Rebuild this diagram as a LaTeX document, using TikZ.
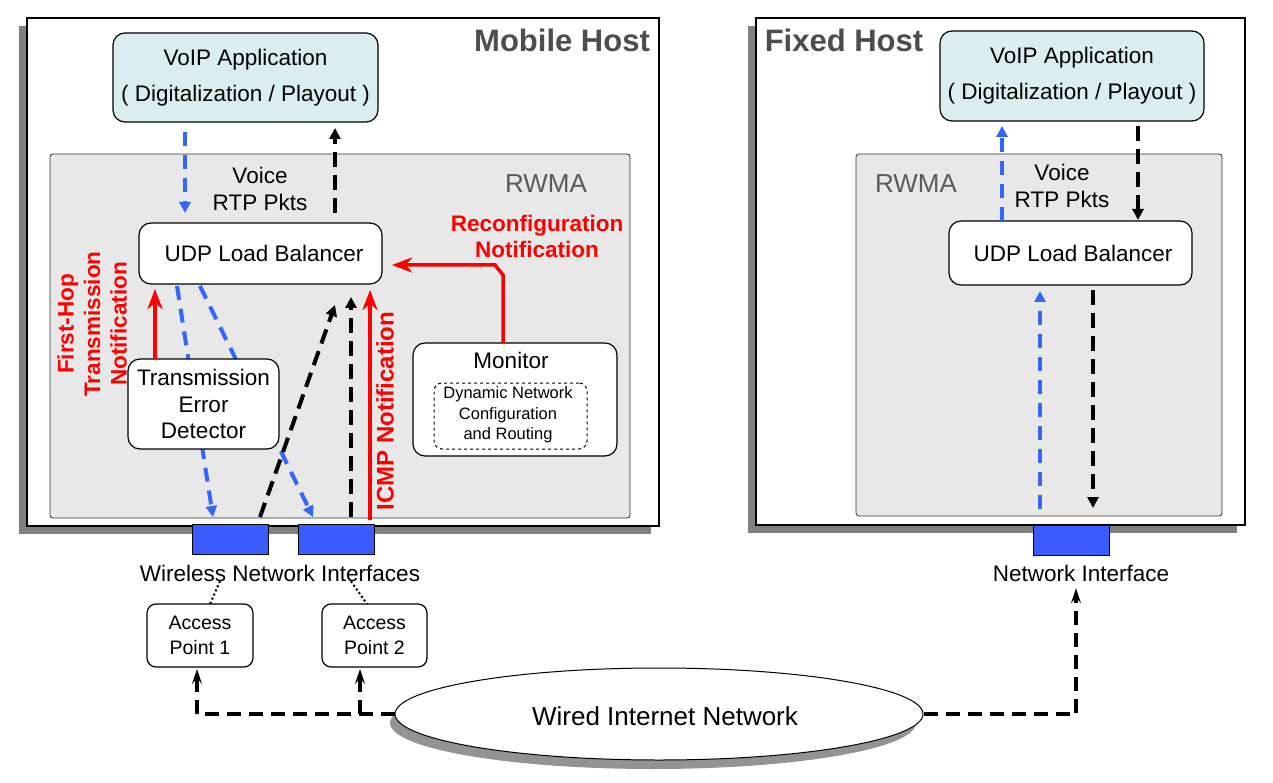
\documentclass[tikz,border=0pt]{standalone}
\usepackage{fontspec}
\setmainfont{Liberation Sans}
\usetikzlibrary{arrows.meta,shapes.geometric,calc}
\definecolor{appcyan}{HTML}{DAEEF1}
\definecolor{rwmagray}{HTML}{E8E8E8}
\definecolor{shadowgray}{HTML}{808080}
\definecolor{dblue}{HTML}{3366FF}
\definecolor{ifblue}{HTML}{3A5CFF}
\definecolor{hostlbl}{HTML}{4D4D4D}
\definecolor{rwmalbl}{HTML}{5A5A5A}
\definecolor{nred}{HTML}{FF0000}
\begin{document}
\begin{tikzpicture}[x=1pt,y=-1pt,
  txt/.style={inner sep=0pt,outer sep=0pt,align=center,font=\fontsize{22.5}{27}\selectfont},
  hostbox/.style={draw=black,line width=1.2pt,fill=white,inner sep=0pt,outer sep=0pt},
  rwmabox/.style={draw=black!80,line width=0.8pt,fill=rwmagray,rounded corners=3pt,inner sep=0pt,outer sep=0pt},
  rbox/.style={draw=black,line width=1.2pt,fill=white,rounded corners=12pt,inner sep=0pt,outer sep=0pt,align=center,font=\fontsize{22.5}{26.5}\selectfont},
  appbox/.style={rbox,fill=appcyan,font=\fontsize{22.5}{36}\selectfont},
  ifbox/.style={draw=black,line width=1pt,fill=ifblue,inner sep=0pt,outer sep=0pt,minimum width=76pt,minimum height=30pt},
  hostlabel/.style={inner sep=0pt,font=\bfseries\fontsize{31}{34}\selectfont,text=hostlbl},
  rwmalabel/.style={inner sep=0pt,font=\fontsize{26}{30}\selectfont,text=rwmalbl},
  redlbl/.style={inner sep=0pt,align=center,text=nred,font=\bfseries\fontsize{22.5}{26.5}\selectfont},
  blackarr/.style={draw=black,line width=4pt,dash pattern=on 15pt off 8pt,-{Triangle[length=11pt,width=11pt]}},
  bluearr/.style={draw=dblue,line width=4pt,dash pattern=on 14pt off 9pt,-{Triangle[length=11pt,width=11pt]}},
  redarr/.style={draw=nred,line width=3.5pt,-{Stealth[length=20pt,width=15pt,inset=6pt]}},
  wirearr/.style={draw=black,line width=4pt,dash pattern=on 14pt off 8pt,-{Stealth[length=15pt,width=10pt,inset=6pt]}},
  dotsty/.style={draw=black,line width=2pt,dash pattern=on 2pt off 2.5pt}]
\useasboundingbox (0,0) rectangle (1273,783);

% ---------------- Mobile host ----------------
\fill[shadowgray] (19,26) rectangle (651,534);
\node[hostbox,minimum width=632pt,minimum height=508pt] (mh) at (343,272) {};
\node[hostlabel] (mhl) at (562,40) {Mobile Host};
\node[rwmabox,minimum width=580pt,minimum height=364pt] (mrwma) at (340,336) {};
\node[rwmalabel] (mrl) at (546,184) {RWMA};
\node[appbox,minimum width=265pt,minimum height=89pt] (mapp) at (245.5,77.5) {VoIP Application\\( Digitalization / Playout )};
\node[txt] (mvoice) at (260,188.5) {Voice\\RTP Pkts};
\node[rbox,minimum width=243pt,minimum height=61pt] (mudp) at (260.5,253.5) {\hspace*{7pt}UDP Load Balancer};
\node[ifbox] (if1) at (230,539) {};
\node[ifbox] (if2) at (336,539) {};

% blue lines behind the detector box
\draw[bluearr] ($(mudp.south)+(-83.5,2)$) -- ($(if1.north)+(-17,-7)$);
\draw[bluearr] ($(mudp.south)+(-60.5,2)$) -- ($(if2.north)+(-23,-7)$);

\node[rbox,minimum width=151pt,minimum height=90pt] (mted) at (203.5,404) {Transmission\\Error\\Detector};
\node[rbox,minimum width=204pt,minimum height=113pt] (mmon) at (515,399.5) {};
\node[txt] (monl) at (511,360) {Monitor};
\node[draw=black,line width=1pt,dashed,rounded corners=8pt,fill=white,inner sep=0pt,minimum width=153pt,minimum height=66pt] (dyn) at (510.5,416) {};
\node[inner sep=0pt,align=center,font=\fontsize{16.5}{20.5}\selectfont] (dynt) at (508,415) {Dynamic Network\\Configuration\\and Routing};

\node[redlbl] (recl) at (537,236.5) {Reconfiguration\\Notification};
\node[redlbl,rotate=90] (fhn) at (92,324) {First-Hop\\Transmission\\Notification};
\node[redlbl,rotate=90,font=\bfseries\fontsize{24}{28}\selectfont] (icmp) at (385,411) {ICMP Notification};

\draw[bluearr] ($(mapp.south)+(-60.5,10)$) -- ($(mudp.north)+(-75.5,-10)$);
\draw[blackarr] ($(mudp.north)+(74.5,-10)$) -- ($(mapp.south)+(89.5,6)$);
\draw[redarr] (mted.north -| 155,0) -- ($(mudp.south)+(-105.5,5)$);
\draw[blackarr] ($(if1.north)+(30,-7)$) -- ($(mudp.south)+(74.5,21)$);
\draw[blackarr] ($(if2.north)+(15,-7)$) -- ($(mudp.south)+(90.5,13)$);
\draw[redarr] ($(if2.north)+(34,-4)$) -- ($(mudp.south)+(109.5,6)$);
\draw[redarr,line join=miter] ($(mmon.north)+(-12,0)$) -- ++(0,-68) -- ++(-8,-10) -- ($(mudp.east)+(10,11.5)$);

\node[txt] (wl) at (280,573) {Wireless Network Interfaces};
\node[rbox,rounded corners=9pt,font=\fontsize{19.5}{25}\selectfont,minimum width=106pt,minimum height=63pt] (ap1) at (200,635.5) {Access\\Point 1};
\node[rbox,rounded corners=9pt,font=\fontsize{19.5}{25}\selectfont,minimum width=105pt,minimum height=63pt] (ap2) at (374.5,635.5) {Access\\Point 2};
\draw[dotsty] ($(wl.south)+(-60,0)$) -- ($(ap1.north)+(10,0)$);
\draw[dotsty] ($(wl.south)+(71,0)$) -- ($(ap2.north)+(-7.5,0)$);

% ---------------- Fixed host ----------------
\fill[shadowgray] (748,26) rectangle (1237,533);
\node[hostbox,minimum width=489pt,minimum height=507pt] (fh) at (1000.5,271.5) {};
\node[hostlabel] (fhl) at (844,40) {Fixed Host};
\node[rwmabox,minimum width=366pt,minimum height=362pt] (frwma) at (1039,335) {};
\node[rwmalabel] (frl) at (916,184) {RWMA};
\node[appbox,minimum width=264pt,minimum height=90pt] (fapp) at (1072,76) {VoIP Application\\( Digitalization / Playout )};
\node[txt] (fvoice) at (1062,185.5) {Voice\\RTP Pkts};
\node[rbox,minimum width=243pt,minimum height=64pt] (fudp) at (1070.5,253) {\hspace*{5pt}UDP Load Balancer};
\node[ifbox] (fif) at (1071,540) {};
\node[txt] (nl) at (1081,573) {Network Interface};

\draw[bluearr] ($(fudp.north)+(-68.5,0)$) -- ($(fapp.south)+(-70,5)$);
\draw[blackarr] ($(fapp.south)+(66,5)$) -- ($(fudp.north)+(67.5,-1)$);
\draw[bluearr] ($(fif.north)+(-31,-16)$) -- ($(fudp.south)+(-30.5,6)$);
\draw[blackarr] ($(fudp.south)+(22.5,5)$) -- ($(fif.north)+(22,-17)$);

% ---------------- Wired network ----------------
\fill[shadowgray!85] (653,723) ellipse [x radius=263, y radius=46];
\node[draw=black,line width=1pt,fill=white,ellipse,inner sep=0pt,minimum width=528pt,minimum height=92pt] (wired) at (659,714) {};
\node[inner sep=0pt,font=\fontsize{26}{30}\selectfont] (wiredl) at (665,716) {Wired Internet Network};

\draw[wirearr] (wired.west) -| ($(ap1.south)+(-3,2)$);
\draw[wirearr] ($(ap2.south)+(-14.5,46.5)$) -- ($(ap2.south)+(-14.5,2)$);
\draw[wirearr] (wired.east) -| ($(nl.south)+(-5,7)$);
\end{tikzpicture}
\end{document}
